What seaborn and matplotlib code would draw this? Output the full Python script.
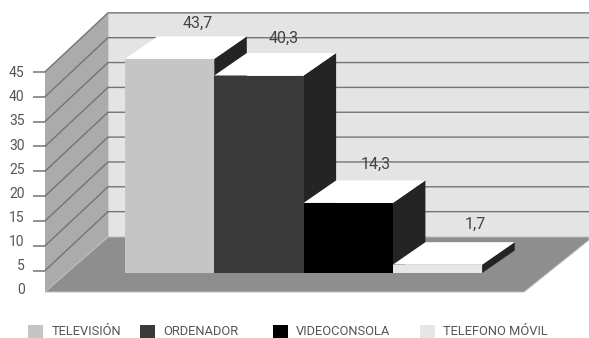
import matplotlib
matplotlib.use("Agg")
import matplotlib.pyplot as plt
import matplotlib.transforms as mtrans
from matplotlib.patches import Polygon, Rectangle
import seaborn as sns

categories = ["TELEVISIÓN", "ORDENADOR", "VIDEOCONSOLA", "TELEFONO MÓVIL"]
values = [43.7, 40.3, 14.3, 1.7]
value_labels = ["43,7", "40,3", "14,3", "1,7"]
bar_colors = ["#c5c5c5", "#3a3a3a", "#000000", "#e6e6e6"]
tick_values = [0, 5, 10, 15, 20, 25, 30, 35, 40, 45]

W, H = 589, 338
FONT = "Roboto"
TEXT = "#555555"
GRID = "#747474"

sns.set_theme(style="white")
plt.rcParams["font.family"] = [FONT, "DejaVu Sans"]

fig = plt.figure(figsize=(W / 100, H / 100), dpi=100, facecolor="white")
ax = fig.add_axes([0, 0, 1, 1])

# Layout of the oblique drawing, in pixels
BAR_W = 89.3          # px per category
BAR_LEFT = 125        # left edge of first bar
BAR_BASE = 273        # baseline of bars
BAR_SCALE = 4.9       # px per unit for bars
DEPTH_X, DEPTH_Y = 32.5, 22.5   # bar depth
WALL_SCALE = 4.97     # px per unit on the walls
FRONT_X, FRONT_Y = 45, 295.5    # front-left corner, value 0
FLOOR_Y = 292                   # front edge of the floor
BACK_X, BACK_Y = 108, 236.5     # back-left corner, value 0
LABEL_SHIFT_X = [28, 25, 27, 38]   # px from the bar centre to its value label
LABEL_SHIFT_Y = [6, 7, 9, 10]      # px above the back edge of the top face


def X(px):
    return (px - BAR_LEFT) / BAR_W - 0.5


def Y(py):
    return (BAR_BASE - py) / BAR_SCALE


def P(px, py):
    return (X(px), Y(py))


top = max(tick_values)
dx, dy = DEPTH_X / BAR_W, DEPTH_Y / BAR_SCALE

# Walls and floor
ax.add_patch(Polygon([P(BACK_X, BACK_Y), P(W, BACK_Y), P(W, BACK_Y - top * WALL_SCALE),
                      P(BACK_X, BACK_Y - top * WALL_SCALE)], fc="#e4e4e4", ec="none", zorder=1))
ax.add_patch(Polygon([P(FRONT_X, FLOOR_Y), P(BACK_X, BACK_Y), P(BACK_X, BACK_Y - top * WALL_SCALE),
                      P(FRONT_X, FRONT_Y - top * WALL_SCALE)], fc="#ababab", ec="none", zorder=1))
ax.plot([X(BACK_X)] * 2, [Y(BACK_Y), Y(BACK_Y - top * WALL_SCALE)], color="#cfcfcf", lw=0.8, zorder=1.2)
for v in tick_values[1:]:
    yf, yb = FRONT_Y - v * WALL_SCALE, BACK_Y - v * WALL_SCALE
    ax.plot([X(FRONT_X), X(BACK_X), X(W)], [Y(yf), Y(yb), Y(yb)], color=GRID, lw=1.0,
            solid_joinstyle="miter", zorder=1.5)
ax.add_patch(Polygon([P(FRONT_X, FLOOR_Y), P(BACK_X, BACK_Y + 0.5), P(W, BACK_Y + 0.5),
                      P(W, BACK_Y + 3.5), P(FRONT_X + 479, FLOOR_Y)],
                     fc="#8e8e8e", ec="#bdbdbd", lw=0.7, zorder=2))

# Front faces of the bars
sns.barplot(x=categories, y=values, hue=categories, palette=bar_colors, width=1.0,
            dodge=False, saturation=1, legend=False, ax=ax, zorder=8,
            edgecolor="none", linewidth=0)

# Side and top faces of the bars
for i, v in enumerate(values):
    r = i + 0.5
    l = i - 0.5
    ax.add_patch(Polygon([(r, 0), (r + dx, dy), (r + dx, v + dy), (r, v)],
                         fc="#242424", ec="none", zorder=3 + i * 0.5))
    ax.add_patch(Polygon([(l, v), (r, v), (r + dx, v + dy), (l + dx, v + dy)],
                         fc="white", ec="none", zorder=3.2 + i * 0.5))
    ax.annotate(value_labels[i], (i, v + dy),
                xytext=(LABEL_SHIFT_X[i] * 0.72, LABEL_SHIFT_Y[i] * 0.72),
                textcoords="offset points", ha="center", va="bottom", fontsize=11.5,
                color="#444444", zorder=10, family=FONT)

ax.set_xlim(X(0), X(W))
ax.set_ylim(Y(H), Y(0))
ax.axis("off")

# Value axis, on the front-left edge of the side wall
ax2 = fig.add_axes([FRONT_X / W, 1 - FRONT_Y / H, 0.001, top * WALL_SCALE / H])
ax2.patch.set_visible(False)
ax2.set_ylim(0, top)
ax2.set_yticks(tick_values)
ax2.set_yticklabels([str(t) for t in tick_values])
ax2.set_xticks([])
for s in ax2.spines.values():
    s.set_visible(False)
ax2.tick_params(axis="y", left=True, length=8.6, width=1.1, color=GRID, pad=6,
                labelsize=10, labelcolor=TEXT)
ax2.yaxis.get_major_ticks()[0].tick1line.set_visible(False)
for t, lab in zip(tick_values, ax2.get_yticklabels()):
    lab.set_transform(lab.get_transform() +
                      mtrans.ScaledTranslation(0, (top - t) / top * 7 / 100, fig.dpi_scale_trans))

# Legend row along the lower edge of the image
swatch_x = [28, 140, 273, 420]
label_x = [52, 163, 296, 443]
for x0, tx, c, name in zip(swatch_x, label_x, bar_colors, categories):
    fig.add_artist(Rectangle((x0 / W, 0), 15 / W, 13 / H, transform=fig.transFigure, fc=c, ec="none"))
    fig.text(tx / W, 1 - 331.5 / H, name, ha="left", va="center", fontsize=9.3, color=TEXT)

fig.savefig("out.png", dpi=100)
